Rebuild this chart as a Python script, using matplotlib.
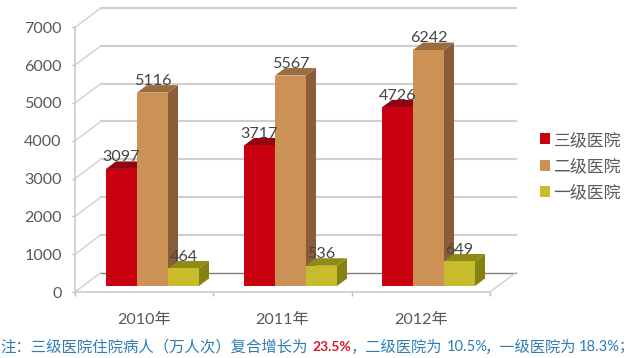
"""
    Inpatient visits by hospital grade, fake-3D bars as in the slide
"""

from matplotlib import pyplot as plt
from matplotlib.patches import Patch, Polygon
import numpy as np

plt.rcParams["font.family"] = ["Lato", "Noto Sans CJK SC", "DejaVu Sans"]

years = ["2010年", "2011年", "2012年"]
grades = ["三级医院", "二级医院", "一级医院"]
grade3 = [3097, 3717, 4726]
grade2 = [5116, 5567, 6242]
grade1 = [464, 536, 649]
y_ticks = [0, 1000, 2000, 3000, 4000, 5000, 6000, 7000]

front = ["#C8000F", "#CC9155", "#C6BC2C"]
top = ["#8F0410", "#9A6D3E", "#8F8B16"]
side = ["#A00010", "#8A5C38", "#858212"]
text_col = "#595959"
note_col = "#2F7DB5"

# picture scale: one group = 138 px, 1000 visits = 37.8 px
PX_X = 1 / 138
PX_Y = 1000 / 37.8
W, H = 640, 358
X0_PX, Y0_PX = 152.5, 292
BAR_PX = 31


def draw_bar(ax, x, value, idx):
    width = BAR_PX * PX_X
    dx, dy = 10 * PX_X, 7.5 * PX_Y
    base = 6 * PX_Y
    y1 = base + value
    ax.add_patch(Polygon([(x + width, base), (x + width + dx, base + dy), (x + width + dx, y1 + dy),
                          (x + width, y1)], fc=side[idx], ec="none", zorder=3))
    ax.add_patch(Polygon([(x, y1), (x + width, y1), (x + width + dx, y1 + dy), (x + dx, y1 + dy)],
                         fc=top[idx], ec="none", zorder=3))
    ax.add_patch(Polygon([(x, base), (x + width, base), (x + width, y1), (x, y1)],
                         fc=front[idx], ec="none", zorder=3))
    ax.annotate(str(value), (x + width / 2, y1), xytext=(0, 8.5), textcoords="offset points",
                ha="center", va="center", fontsize=11.6, color="#444444", zorder=5)


def draw_fig():
    fig, ax = plt.subplots(figsize=(W / 100, H / 100), dpi=100)
    ax.set_position([0, 0, 1, 1])
    ax.set_xlim(-X0_PX * PX_X, (W - X0_PX) * PX_X)
    ax.set_ylim(-(H - Y0_PX) * PX_Y, Y0_PX * PX_Y)
    ax.patch.set_alpha(0)

    x_left, x_right = (75 - X0_PX) * PX_X, (490 - X0_PX) * PX_X
    wall_dx, wall_dy = 26 * PX_X, 19.5 * PX_Y

    # back wall grid and the diagonals of the side wall
    for v in y_ticks:
        ax.plot([x_left + wall_dx, x_right + wall_dx], [v + wall_dy, v + wall_dy],
                color="#7F7F7F" if v == 0 else "#CFCFCF", lw=1 if v == 0 else 1.5, zorder=1)
        ax.plot([x_left, x_left + wall_dx], [v, v + wall_dy], color="#D0D0D0", lw=1, zorder=1)
    ax.plot([x_right, x_right + wall_dx], [0, wall_dy], color="#D0D0D0", lw=1, zorder=1)

    # front axes
    for name in ["top", "right"]:
        ax.spines[name].set_visible(False)
    ax.spines["left"].set_position(("data", x_left))
    ax.spines["left"].set_bounds(0, 7000)
    ax.spines["bottom"].set_position(("data", 0))
    ax.spines["bottom"].set_bounds(x_left, x_right)
    for name in ["left", "bottom"]:
        ax.spines[name].set_color("#CCCCCC")
        ax.spines[name].set_linewidth(1.2)
    ax.set_yticks(y_ticks)
    ax.tick_params(axis="y", length=2.5, width=1, color="#BBBBBB", labelcolor=text_col,
                   labelsize=11.6, pad=7)
    edges = np.linspace(x_left, x_right, 4)
    ax.set_xticks(edges)
    ax.set_xticklabels([])
    ax.tick_params(axis="x", which="major", length=3, width=1, color="#BBBBBB", direction="out")
    ax.set_xticks((edges[:-1] + edges[1:]) / 2, minor=True)
    ax.set_xticklabels(years, minor=True)
    ax.tick_params(axis="x", which="minor", length=0, labelcolor=text_col, labelsize=11.6, pad=15)

    # bars
    for i in range(len(years)):
        for j, values in enumerate([grade3, grade2, grade1]):
            draw_bar(ax, i + (j - 1.5) * BAR_PX * PX_X, values[i], j)

    handles = [Patch(fc=c, ec="none") for c in front]
    ax.legend(handles, grades, loc="center left", bbox_to_anchor=(539.5 / W, (H - 166) / H),
              bbox_transform=fig.transFigure, frameon=False, fontsize=12.2, labelcolor=text_col,
              handlelength=0.62, handleheight=0.62, handletextpad=0.2, labelspacing=0.6,
              borderpad=0, borderaxespad=0)

    # footnote, pieces placed by pixel
    notes = [(0, "注：三级医院住院病人（万人次）复合增长为", note_col, "normal", 11.1),
             (312, "23.5%", "#D8182A", "bold", 10.0),
             (351, "，二级医院为", note_col, "normal", 11.0),
             (447, "10.5%", note_col, "normal", 10.6),
             (485, "，一级医院为", note_col, "normal", 11.0),
             (579, "18.3%；", note_col, "normal", 10.6)]
    for x_px, txt, col, weight, size in notes:
        fig.text(x_px / W, (H - 347) / H, txt, color=col, fontweight=weight, fontsize=size,
                 ha="left", va="center")

    plt.savefig("out.png", dpi=100)


if __name__ == "__main__":
    draw_fig()
